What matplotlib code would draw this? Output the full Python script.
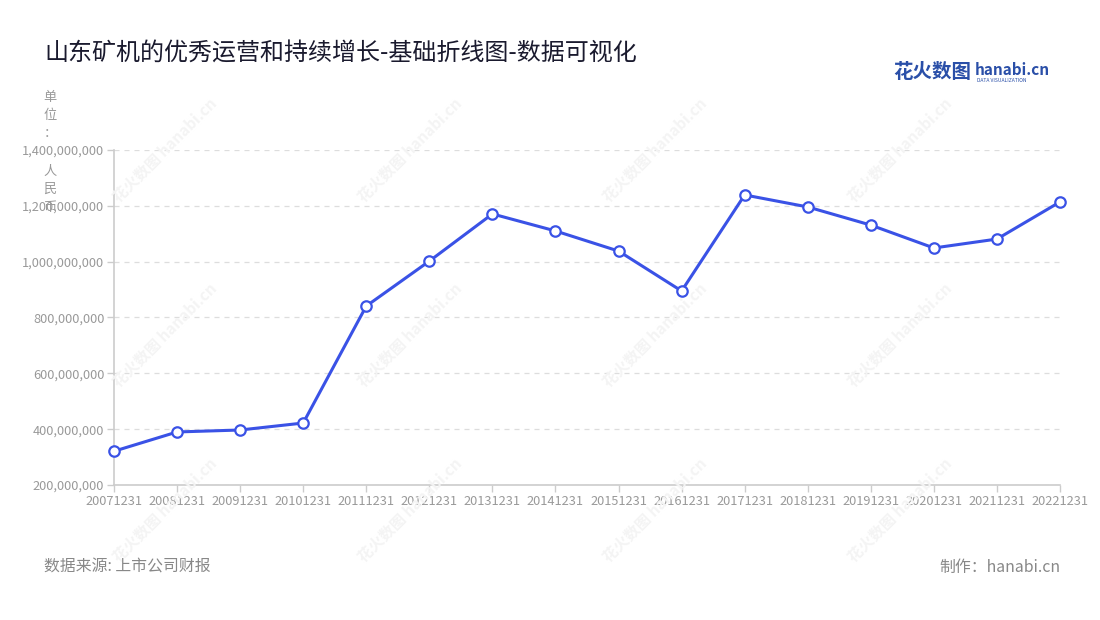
import matplotlib
matplotlib.use("Agg")
import matplotlib.pyplot as plt
from matplotlib.ticker import FuncFormatter

plt.rcParams['font.family'] = ['Noto Sans CJK SC', 'DejaVu Sans']

# data
dates = ["20071231", "20081231", "20091231", "20101231", "20111231", "20121231",
         "20131231", "20141231", "20151231", "20161231", "20171231", "20181231",
         "20191231", "20201231", "20211231", "20221231"]
revenue = [321e6, 390e6, 397e6, 422e6, 841e6, 1002e6, 1171e6, 1110e6,
           1038e6, 895e6, 1239e6, 1196e6, 1131e6, 1049e6, 1081e6, 1214e6]
y_ticks = [200e6, 400e6, 600e6, 800e6, 1000e6, 1200e6, 1400e6]
unit_chars = ["单", "位", "：", "人", "民", "币"]

W, H = 1100, 620
fig = plt.figure(figsize=(11, 6.2), dpi=100)
ax = fig.add_axes([114 / W, 1 - 485 / H, (1060 - 114) / W, (485 - 150) / H])

# faint watermarks
for wx in (165, 410, 655, 900):
    for wy in (150, 335, 510):
        fig.text(wx / W, 1 - wy / H, "花火数图 hanabi.cn", rotation=45,
                 ha="center", va="center", fontsize=11, color="#f4f4f4",
                 fontweight="bold", zorder=0)

x = list(range(len(dates)))
ax.plot(x, revenue, color="#3a52e6", linewidth=2.2, marker="o", markersize=7.5,
        markerfacecolor="white", markeredgecolor="#3a52e6", markeredgewidth=1.6,
        zorder=5, clip_on=False)

ax.set_xlim(0, len(dates) - 1)
ax.set_ylim(200e6, 1400e6)
ax.set_yticks(y_ticks)
ax.yaxis.set_major_formatter(FuncFormatter(lambda v, p: f"{int(v):,}"))
ax.set_xticks(x)
ax.set_xticklabels(dates)
ax.set_facecolor("none")

ax.grid(axis="y", color="#dddddd", linestyle=(0, (4, 4)), linewidth=0.9)
ax.set_axisbelow(True)
for s in ("top", "right"):
    ax.spines[s].set_visible(False)
for s in ("left", "bottom"):
    ax.spines[s].set_color("#cccccc")
    ax.spines[s].set_linewidth(1.2)
ax.tick_params(axis="both", colors="#cccccc", labelcolor="#999999",
               labelsize=9.2, length=5, width=1)
ax.tick_params(axis="x", pad=2)
ax.tick_params(axis="y", pad=2)

# title
fig.text(44 / W, 1 - 53 / H, "山东矿机的优秀运营和持续增长-基础折线图-数据可视化",
         fontsize=17.3, color="#1a1a2e", va="center", ha="left")

# unit label, stacked vertically
for ch, cy in zip(unit_chars, (97, 116, 134, 171, 189, 207)):
    fig.text(50 / W, 1 - cy / H, ch, fontsize=9.5, color="#999999",
             ha="center", va="center")

# logo
fig.text(893 / W, 1 - 73 / H, "花火数图", fontsize=14, color="#2a4fa8",
         fontweight="bold", va="center", ha="left")
fig.text(975 / W, 1 - 70 / H, "hanabi.cn", fontsize=11, color="#2a4fa8",
         fontweight="bold", va="center", ha="left")
fig.text(977 / W, 1 - 80 / H, "DATA VISUALIZATION", fontsize=3.6, color="#2a4fa8",
         va="center", ha="left")

# footer
fig.text(44 / W, 1 - 567 / H, "数据来源: 上市公司财报", fontsize=11.4,
         color="#888888", va="center", ha="left")
fig.text(1060 / W, 1 - 567 / H, "制作：hanabi.cn", fontsize=11.4,
         color="#888888", va="center", ha="right")

fig.savefig("out.png", dpi=100, facecolor="white")
